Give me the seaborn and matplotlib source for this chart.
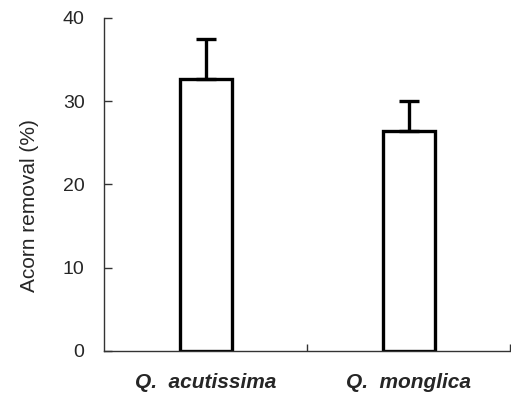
import matplotlib
matplotlib.use("Agg")
import matplotlib.pyplot as plt
import seaborn as sns
import pandas as pd
from matplotlib.ticker import FixedLocator

# values
species = ["Q.  acutissima", "Q.  monglica"]
removal = [32.7, 26.4]
se = [4.8, 3.6]

df = pd.DataFrame({"Species": species, "Removal": removal})

sns.set_style("white")
plt.rcParams["font.family"] = ["Liberation Sans", "DejaVu Sans"]

fig = plt.figure(figsize=(5.11, 4.0), dpi=100)
ax = fig.add_axes([0.2035, 0.123, 0.795, 0.832])

sns.barplot(data=df, x="Species", y="Removal", color="white",
            edgecolor="black", linewidth=2.4, width=0.256, ax=ax,
            errorbar=None)
# upper error bars only
ax.errorbar(range(len(species)), removal, yerr=[[0, 0], se], fmt="none",
            ecolor="black", elinewidth=2.4, capsize=7, capthick=2.4)

ax.set_xlim(-0.5, 1.5)
ax.set_ylim(0, 40)
ax.set_yticks([0, 10, 20, 30, 40])
ax.set_xlabel("")
ax.set_ylabel("Acorn removal (%)", fontsize=15)
ax.yaxis.set_label_coords(-0.16, 0.435)

for s in ["top", "right"]:
    ax.spines[s].set_visible(False)
for s in ["left", "bottom"]:
    ax.spines[s].set_color("#333333")
    ax.spines[s].set_linewidth(1.0)

ax.tick_params(axis="y", which="major", direction="in", length=6, width=1,
               color="#333333", labelsize=14, pad=14, left=True)
ax.tick_params(axis="x", which="major", length=0, pad=16)
ax.xaxis.set_minor_locator(FixedLocator([0.5, 1.5]))
ax.tick_params(axis="x", which="minor", direction="in", length=5, width=1,
               color="#333333", bottom=True)
for lab in ax.get_xticklabels():
    lab.set_fontsize(15)
    lab.set_fontweight("bold")
    lab.set_fontstyle("italic")

fig.savefig("out.png", dpi=100)
